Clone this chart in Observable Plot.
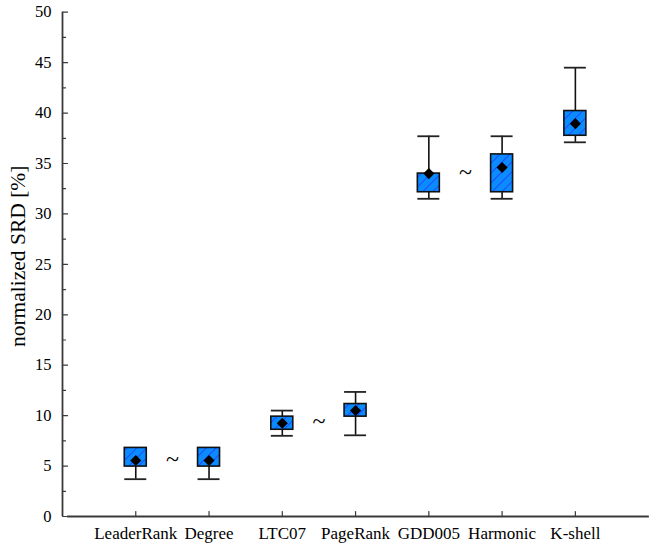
<!DOCTYPE html>
<html>
<head>
<meta charset="utf-8">
<script src="https://cdn.jsdelivr.net/npm/d3@7"></script>
<script src="https://cdn.jsdelivr.net/npm/@observablehq/plot@0.6"></script>
<style>
  html, body { margin: 0; padding: 0; background: #fff; }
  #chart svg { display: block; }
</style>
</head>
<body>
<div id="chart"></div>
<script>
// ---- data ----
const categories = ["LeaderRank", "Degree", "LTC07", "PageRank", "GDD005", "Harmonic", "K-shell"];
const whiskerLow  = [3.7, 3.7, 8.0, 8.05, 31.5, 31.5, 37.1];
const boxLow      = [4.95, 4.95, 8.6, 9.9, 32.15, 32.15, 37.75];
const boxHigh     = [6.8, 6.8, 9.9, 11.15, 34.0, 35.9, 40.2];
const whiskerHigh = [6.8, 6.8, 10.5, 12.35, 37.7, 37.7, 44.5];
const means       = [5.55, 5.55, 9.25, 10.5, 34.0, 34.6, 38.95];
// "~" marks between pairs of statistically indistinguishable methods
const tildeAfter  = [0, 2, 4];          // index of left category of each pair
const tildeValue  = [5.65, 9.4, 34.1];
const yTicks      = [0, 5, 10, 15, 20, 25, 30, 35, 40, 45, 50];
const yMinorTicks = [2.5, 7.5, 12.5, 17.5, 22.5, 27.5, 32.5, 37.5, 42.5, 47.5];
const yLabel = "normalized SRD [%]";

// ---- build table ----
const boxes = categories.map((c, i) => ({
  name: c, pos: i + 1,
  lo: whiskerLow[i], q1: boxLow[i], q3: boxHigh[i], hi: whiskerHigh[i], mean: means[i]
}));
const tildes = tildeAfter.map((a, k) => ({pos: a + 1.5, v: tildeValue[k]}));
const halfW = 0.15;
const font = "'Liberation Serif', 'DejaVu Serif', serif";
const axisColor = "#3a3a3a";
const tickShape = {draw(context, l) { context.moveTo(0, 0); context.lineTo(0, -l); }};

const chart = Plot.plot({
  width: 654,
  height: 546,
  marginLeft: 62,
  marginRight: 0,
  marginTop: 11.7,
  marginBottom: 30,
  style: {fontFamily: font, fontSize: "16px", background: "#fff", color: "#000"},
  x: {type: "linear", domain: [0, 8.08]},
  y: {domain: [0, 50]},
  marks: [
    // axis lines
    Plot.ruleX([0], {y1: 0, y2: 50, stroke: axisColor, strokeWidth: 1.8}),
    Plot.ruleY([0], {x1: 0.07, x2: 8.01, stroke: axisColor, strokeWidth: 1.8}),
    // inward ticks
    Plot.vector(yTicks, {x: 0, y: d => d, length: 5, rotate: 90, anchor: "start", shape: tickShape, stroke: axisColor, strokeWidth: 1.2}),
    Plot.vector(yMinorTicks, {x: 0, y: d => d, length: 3, rotate: 90, anchor: "start", shape: tickShape, stroke: axisColor, strokeWidth: 1.2}),
    Plot.vector(boxes, {x: "pos", y: 0, length: 5, rotate: 0, anchor: "start", shape: tickShape, stroke: axisColor, strokeWidth: 1.2}),
    // tick labels
    Plot.axisY({ticks: yTicks, tickSize: 0, tickPadding: 11, label: null, fontSize: 16.5, fill: "#000"}),
    Plot.axisX({ticks: boxes.map(d => d.pos), tickFormat: p => categories[p - 1], tickSize: 0, tickPadding: 10, label: null, fontSize: 17, fill: "#000"}),
    // whiskers
    Plot.ruleX(boxes, {x: "pos", y1: "lo", y2: "q1", stroke: "#111", strokeWidth: 1.6}),
    Plot.ruleX(boxes, {x: "pos", y1: "q3", y2: "hi", stroke: "#111", strokeWidth: 1.6}),
    Plot.ruleY(boxes, {y: "lo", x1: d => d.pos - halfW, x2: d => d.pos + halfW, stroke: "#222", strokeWidth: 1.8}),
    Plot.ruleY(boxes, {y: "hi", x1: d => d.pos - halfW, x2: d => d.pos + halfW, stroke: "#222", strokeWidth: 1.8}),
    // boxes: fill, hatch, outline
    Plot.rect(boxes, {x1: d => d.pos - halfW, x2: d => d.pos + halfW, y1: "q1", y2: "q3", fill: "#0a8cff"}),
    Plot.rect(boxes, {x1: d => d.pos - halfW, x2: d => d.pos + halfW, y1: "q1", y2: "q3", fill: "url(#hatch)"}),
    Plot.rect(boxes, {x1: d => d.pos - halfW, x2: d => d.pos + halfW, y1: "q1", y2: "q3", fill: "none", stroke: "#111", strokeWidth: 1.6}),
    // means
    Plot.dot(boxes, {x: "pos", y: "mean", symbol: "diamond2", r: 5, fill: "#000", stroke: "none"}),
    // tildes
    Plot.text(tildes, {x: "pos", y: "v", text: () => "~", fontSize: 24, fill: "#000"}),
    // y-axis title
    Plot.text([yLabel], {frameAnchor: "left", textAnchor: "middle", rotate: -90, dx: -44, dy: -8, text: d => d, fontSize: 21.5, fill: "#000"})
  ]
});

// hatch pattern definition
const ns = "http://www.w3.org/2000/svg";
const defs = document.createElementNS(ns, "defs");
const pat = document.createElementNS(ns, "pattern");
pat.setAttribute("id", "hatch");
pat.setAttribute("patternUnits", "userSpaceOnUse");
pat.setAttribute("width", "7");
pat.setAttribute("height", "7");
pat.setAttribute("patternTransform", "rotate(45)");
const ln = document.createElementNS(ns, "line");
ln.setAttribute("x1", "0"); ln.setAttribute("y1", "0");
ln.setAttribute("x2", "0"); ln.setAttribute("y2", "7");
ln.setAttribute("stroke", "#2a2aff");
ln.setAttribute("stroke-width", "1.4");
pat.appendChild(ln);
defs.appendChild(pat);
chart.insertBefore(defs, chart.firstChild);

document.getElementById("chart").appendChild(chart);
</script>
</body>
</html>
